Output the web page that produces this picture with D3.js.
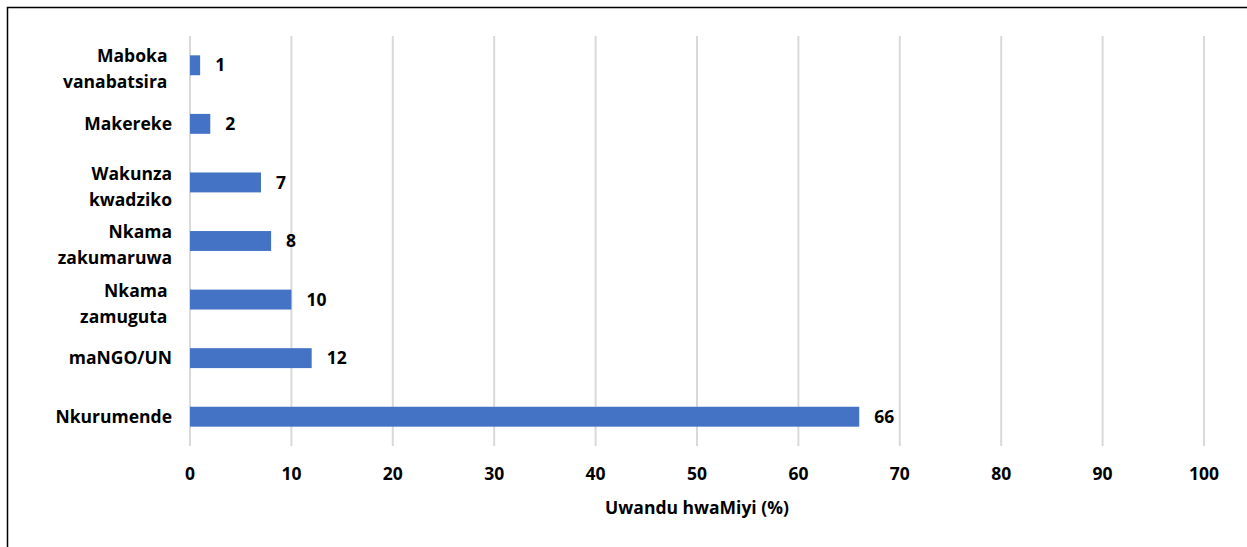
<!DOCTYPE html>
<html>
<head>
<meta charset="utf-8">
<script src="https://cdn.jsdelivr.net/npm/d3@7"></script>
<style>
  html, body { margin: 0; padding: 0; background: #fff; }
  svg text { font-family: "Open Sans", "DejaVu Sans", sans-serif; font-weight: bold; fill: #000; white-space: pre; }
</style>
</head>
<body>
<svg id="chart" width="1247" height="547"></svg>
<script>
// Response categories (top to bottom) and their shares in percent
const categories = [
  ["Maboka ", "vanabatsira "],
  ["Makereke"],
  ["Wakunza", "kwadziko"],
  ["Nkama", "zakumaruwa"],
  ["Nkama ", "zamuguta "],
  ["maNGO/UN"],
  ["Nkurumende"]
];
const values = [1, 2, 7, 8, 10, 12, 66];
const xTicks = [0, 10, 20, 30, 40, 50, 60, 70, 80, 90, 100];
const xTitle = "Uwandu hwaMiyi (%)";

const FS = 17.5;
const svg = d3.select("#chart");

// Outer frame (left and top edges)
svg.append("path")
  .attr("d", "M7.5,547 L7.5,7.5 L1247,7.5")
  .attr("fill", "none").attr("stroke", "#000").attr("stroke-width", 1.5);

const x = d3.scaleLinear().domain([0, 100]).range([190, 1204]);
const y = d3.scaleBand().domain(d3.range(categories.length)).range([36, 446]).paddingInner(0.66).paddingOuter(0.33);

// Vertical gridlines
svg.append("g").selectAll("line").data(xTicks).join("line")
  .attr("x1", d => x(d)).attr("x2", d => x(d))
  .attr("y1", 36).attr("y2", 446)
  .attr("stroke", "#d9d9d9").attr("stroke-width", 2);

// Bars
svg.append("g").selectAll("rect").data(values).join("rect")
  .attr("x", x(0))
  .attr("y", (d, i) => y(i))
  .attr("width", d => x(d) - x(0))
  .attr("height", y.bandwidth())
  .attr("fill", "#4472c4");

// Value labels
svg.append("g").selectAll("text").data(values).join("text")
  .attr("x", d => x(d) + 15)
  .attr("y", (d, i) => y(i) + y.bandwidth() / 2)
  .attr("dy", "0.35em")
  .attr("font-size", FS)
  .text(d => d);

// Category labels, wrapped over one or two lines
const catG = svg.append("g");
categories.forEach((lines, i) => {
  const cy = y(i) + y.bandwidth() / 2 + (lines.length > 1 ? 4 : 0);
  const lh = 26;
  const t = catG.append("text")
    .attr("text-anchor", "end")
    .attr("font-size", FS);
  lines.forEach((ln, j) => {
    t.append("tspan")
      .attr("x", 172)
      .attr("y", cy + (j - (lines.length - 1) / 2) * lh)
      .attr("dy", "0.35em")
      .text(ln);
  });
});

// X axis tick labels
svg.append("g").selectAll("text").data(xTicks).join("text")
  .attr("x", d => x(d))
  .attr("y", 474)
  .attr("dy", "0.35em")
  .attr("text-anchor", "middle")
  .attr("font-size", FS)
  .text(d => d);

// X axis title
svg.append("text")
  .attr("x", 697).attr("y", 508)
  .attr("dy", "0.35em")
  .attr("text-anchor", "middle")
  .attr("font-size", FS)
  .text(xTitle);
</script>
</body>
</html>
